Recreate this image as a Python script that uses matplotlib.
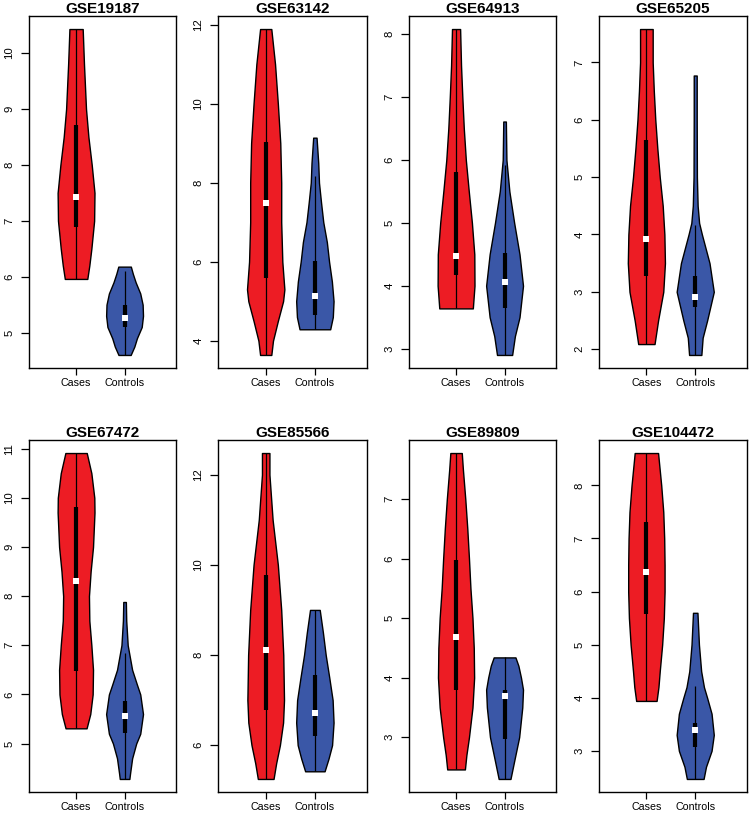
import matplotlib
matplotlib.use("Agg")
import matplotlib.pyplot as plt
import numpy as np

plt.rcParams["font.family"] = ["Liberation Sans", "DejaVu Sans"]

# ── Data ──────────────────────────────────────────────────────────────────
titles = ["GSE19187", "GSE63142", "GSE64913", "GSE65205",
          "GSE67472", "GSE85566", "GSE89809", "GSE104472"]
groups = ["Cases", "Controls"]

# violin outline: y levels and relative half widths (1 = widest point)
case_y = [
    [5.96, 6.2, 6.5, 7.0, 7.5, 8.0, 8.5, 9.0, 9.8, 10.43],
    [3.64, 4.0, 4.5, 5.0, 5.3, 6.0, 7.0, 8.0, 9.0, 10.0, 11.0, 11.89],
    [3.64, 4.0, 4.5, 5.0, 5.5, 6.0, 6.5, 7.0, 7.5, 8.08],
    [2.09, 2.5, 3.0, 3.5, 4.0, 4.5, 5.0, 5.5, 6.0, 6.5, 7.0, 7.58],
    [5.31, 5.6, 6.0, 6.5, 7.0, 7.5, 8.0, 8.5, 9.0, 9.7, 10.0, 10.5, 10.91],
    [5.25, 5.6, 6.0, 6.5, 7.0, 8.0, 9.0, 10.0, 11.0, 12.0, 12.48],
    [2.46, 2.7, 3.0, 3.5, 4.0, 4.5, 5.0, 5.5, 6.0, 6.5, 7.0, 7.5, 7.77],
    [3.94, 4.2, 4.5, 5.0, 5.5, 6.0, 6.5, 7.0, 7.5, 8.0, 8.61],
]
case_w = [
    [0.61, 0.72, 0.83, 0.98, 1.0, 0.85, 0.67, 0.54, 0.43, 0.36],
    [0.30, 0.39, 0.65, 0.93, 1.0, 0.89, 0.83, 0.83, 0.78, 0.65, 0.5, 0.30],
    [0.91, 1.0, 0.99, 0.86, 0.69, 0.53, 0.42, 0.34, 0.27, 0.22],
    [0.44, 0.63, 0.91, 1.0, 0.97, 0.88, 0.72, 0.59, 0.48, 0.4, 0.34, 0.34],
    [0.57, 0.77, 0.9, 0.92, 0.83, 0.72, 0.7, 0.79, 0.92, 1.0, 0.99, 0.83, 0.58],
    [0.42, 0.56, 0.76, 0.93, 0.98, 0.94, 0.83, 0.65, 0.37, 0.2, 0.2],
    [0.48, 0.56, 0.7, 0.89, 0.98, 0.96, 0.89, 0.78, 0.7, 0.61, 0.5, 0.37, 0.31],
    [0.55, 0.65, 0.72, 0.85, 0.94, 0.98, 0.98, 0.96, 0.91, 0.8, 0.63],
]
ctrl_y = [
    [4.6, 4.75, 4.9, 5.1, 5.3, 5.5, 5.7, 5.9, 6.05, 6.18],
    [4.29, 4.6, 5.0, 5.5, 6.0, 6.5, 7.0, 7.5, 8.0, 8.5, 9.14],
    [2.9, 3.2, 3.5, 4.0, 4.5, 5.0, 5.5, 6.0, 6.61],
    [1.9, 2.2, 2.5, 3.0, 3.5, 4.0, 4.2, 4.5, 5.0, 6.0, 6.77],
    [4.28, 4.4, 4.7, 5.0, 5.2, 5.6, 6.0, 6.2, 6.5, 7.0, 7.5, 7.88],
    [5.42, 5.7, 6.0, 6.5, 7.0, 7.5, 8.0, 8.5, 9.0],
    [2.3, 2.6, 3.0, 3.5, 3.8, 4.0, 4.2, 4.34],
    [2.47, 2.7, 3.0, 3.3, 3.7, 4.0, 4.2, 4.5, 5.0, 5.6],
]
ctrl_w = [
    [0.33, 0.53, 0.67, 0.93, 1.0, 0.98, 0.85, 0.6, 0.45, 0.34],
    [0.82, 0.96, 1.0, 0.91, 0.76, 0.64, 0.45, 0.33, 0.22, 0.18, 0.09],
    [0.41, 0.56, 0.81, 1.0, 0.81, 0.52, 0.26, 0.1, 0.07],
    [0.33, 0.4, 0.64, 1.0, 0.77, 0.36, 0.21, 0.13, 0.09, 0.08, 0.08],
    [0.26, 0.3, 0.41, 0.63, 0.85, 1.0, 0.85, 0.67, 0.41, 0.17, 0.09, 0.07],
    [0.52, 0.73, 0.92, 1.0, 0.95, 0.77, 0.58, 0.43, 0.26],
    [0.32, 0.52, 0.79, 0.96, 1.0, 0.89, 0.75, 0.59],
    [0.45, 0.58, 0.88, 1.0, 0.88, 0.64, 0.47, 0.32, 0.2, 0.12],
]

# box statistics
case_q1 = [6.88, 5.60, 4.17, 3.28, 6.47, 6.79, 3.80, 5.58]
case_med = [7.43, 7.48, 4.47, 3.92, 8.30, 8.12, 4.68, 6.37]
case_q3 = [8.71, 9.04, 5.81, 5.65, 9.81, 9.77, 5.97, 7.31]
ctrl_q1 = [5.10, 4.65, 3.64, 2.74, 5.22, 6.21, 2.97, 3.08]
ctrl_med = [5.26, 5.13, 4.06, 2.91, 5.57, 6.72, 3.70, 3.39]
ctrl_q3 = [5.50, 6.03, 4.52, 3.28, 5.86, 7.56, 3.80, 3.52]
ctrl_whi = [6.10, 8.16, 5.92, 4.16, 6.84, 9.00, 4.34, 4.22]

ytick_step = [1, 2, 1, 1, 1, 2, 1, 1]

RED = "#ED1C24"
BLUE = "#3A57A7"
HALF = 0.38

# axes boxes in pixels (left, top, right, bottom)
cols = [(29, 176), (218, 367), (409, 556), (599, 747)]
rows = [(16, 368), (440, 792)]
W, H = 750, 813

fig = plt.figure(figsize=(W / 100, H / 100), dpi=100)


def violin(ax, x, ys, ws, q1, med, q3, wlo, whi, color):
    ys = np.array(ys)
    ws = np.array(ws) * HALF
    ax.fill_betweenx(ys, x - ws, x + ws, facecolor=color,
                     edgecolor="black", linewidth=1.0, zorder=2)
    ax.vlines(x, wlo, whi, colors="black", linewidth=0.9, zorder=3)
    ax.vlines(x, q1, q3, colors="black", linewidth=3.0, zorder=4)
    ax.plot([x], [med], marker="s", color="white", markersize=4.5,
            markeredgewidth=0, zorder=5)


for i, title in enumerate(titles):
    r, c = divmod(i, 4)
    l, rr = cols[c]
    t, b = rows[r]
    ax = fig.add_axes([l / W, 1 - b / H, (rr - l) / W, (b - t) / H])

    violin(ax, 1, case_y[i], case_w[i], case_q1[i], case_med[i], case_q3[i],
           case_y[i][0], case_y[i][-1], RED)
    violin(ax, 2, ctrl_y[i], ctrl_w[i], ctrl_q1[i], ctrl_med[i], ctrl_q3[i],
           ctrl_y[i][0], ctrl_whi[i], BLUE)

    lo = min(case_y[i][0], ctrl_y[i][0])
    hi = max(case_y[i][-1], ctrl_y[i][-1])
    pad = 0.04 * (hi - lo)
    y0, y1 = lo - pad, hi + pad
    ax.set_ylim(y0, y1)
    ax.set_xlim(0.03, 3.06)

    step = ytick_step[i]
    ticks = np.arange(np.ceil(y0 / step) * step, y1 + 1e-9, step)
    ax.set_yticks(ticks)
    ax.set_yticklabels([f"{v:g}" for v in ticks], rotation=90, va="center")
    ax.set_xticks([1, 2])
    ax.set_xticklabels(groups)
    ax.tick_params(width=0.9, labelsize=7.7)
    ax.tick_params(axis="y", length=5.5, pad=5, labelsize=8.2)
    ax.tick_params(axis="x", length=5, pad=2.5)
    for s in ax.spines.values():
        s.set_linewidth(1.0)
    ax.set_title(title, fontsize=11, fontweight="bold", pad=1.5)

fig.savefig("out.png", dpi=100, facecolor="white")
